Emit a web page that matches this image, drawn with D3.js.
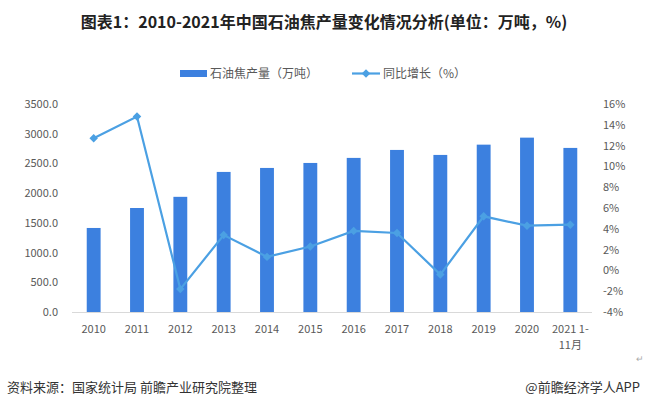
<!DOCTYPE html>
<html><head><meta charset="utf-8">
<script src="https://cdn.jsdelivr.net/npm/d3@7"></script>
<style>
html,body{margin:0;padding:0;background:#fff;}
svg{display:block;font-family:"Microsoft YaHei","Noto Sans CJK SC","Noto Sans",sans-serif;}
</style></head>
<body><svg id="c" width="646" height="407"></svg>
<script>
const categories = ["2010","2011","2012","2013","2014","2015","2016","2017","2018","2019","2020","2021 1-|11月"];
const production = [1414, 1750, 1938, 2357, 2424, 2508, 2593, 2727, 2643, 2816, 2934, 2761];
const growth = [12.7, 14.8, -1.8, 3.4, 1.3, 2.3, 3.8, 3.6, -0.4, 5.2, 4.3, 4.4];
const leftTicks = [0, 500, 1000, 1500, 2000, 2500, 3000, 3500];
const rightTicks = [-4, -2, 0, 2, 4, 6, 8, 10, 12, 14, 16];
const title = "图表1：2010-2021年中国石油焦产量变化情况分析(单位：万吨，%)";
const legendBar = "石油焦产量（万吨）";
const legendLine = "同比增长（%）";
const source = "资料来源：国家统计局 前瞻产业研究院整理";
const credit = "@前瞻经济学人APP";

(function() {
const svg = d3.select("#c");
const barColor = "#3c80df", lineColor = "#4ba0e3", txt = "#595959";
const pl = 72, pr = 592, pt = 104, pb = 312;

const x = d3.scaleBand().domain(categories).range([pl, pr]).paddingInner(0.68).paddingOuter(0.34);
const yL = d3.scaleLinear().domain([0, 3500]).range([pb, pt]);
const yR = d3.scaleLinear().domain([-4, 16]).range([pb, pt]);

svg.append("text").attr("x", 324).attr("y", 28).attr("text-anchor", "middle")
  .attr("font-size", 16).attr("font-weight", "bold").attr("fill", "#222").text(title);

svg.append("g").selectAll("rect").data(production).join("rect")
  .attr("x", (d, i) => x(categories[i])).attr("width", x.bandwidth())
  .attr("y", d => yL(d)).attr("height", d => yL(0) - yL(d)).attr("fill", barColor);

svg.append("line").attr("x1", pl).attr("x2", pr).attr("y1", pb + 0.5).attr("y2", pb + 0.5)
  .attr("stroke", "#d9d9d9").attr("stroke-width", 1);

const gl = svg.append("g").attr("transform", `translate(58,0)`)
  .call(d3.axisLeft(yL).tickValues(leftTicks).tickFormat(d3.format(".1f")).tickSize(0).tickPadding(0));
gl.select(".domain").remove();
gl.selectAll("text").attr("font-size", 11).attr("fill", txt);
gl.attr("font-family", null);

const gr = svg.append("g").attr("transform", `translate(603,0)`)
  .call(d3.axisRight(yR).tickValues(rightTicks).tickFormat(d => d + "%").tickSize(0).tickPadding(0));
gr.select(".domain").remove();
gr.selectAll("text").attr("font-size", 11).attr("fill", txt);
gr.attr("font-family", null);

const xl = svg.append("g").selectAll("text").data(categories).join("text")
  .attr("x", d => x(d) + x.bandwidth() / 2).attr("y", 333)
  .attr("text-anchor", "middle").attr("font-size", 11).attr("fill", txt);
xl.each(function(d) {
  const parts = d.split("|");
  const t = d3.select(this);
  parts.forEach((p, k) => t.append("tspan").attr("x", x(d) + x.bandwidth() / 2).attr("dy", k ? 16 : 0).text(p));
});

const line = d3.line().x((d, i) => x(categories[i]) + x.bandwidth() / 2).y(d => yR(d));
svg.append("path").datum(growth).attr("d", line).attr("fill", "none")
  .attr("stroke", lineColor).attr("stroke-width", 2.2);
svg.append("g").selectAll("path").data(growth).join("path")
  .attr("transform", (d, i) => `translate(${x(categories[i]) + x.bandwidth() / 2},${yR(d)}) rotate(45)`)
  .attr("d", "M-3,-3H3V3H-3Z").attr("fill", lineColor);

const lg = svg.append("g");
lg.append("rect").attr("x", 180).attr("y", 70).attr("width", 27).attr("height", 7).attr("fill", barColor);
lg.append("text").attr("x", 210).attr("y", 78).attr("font-size", 12).attr("fill", txt).text(legendBar);
lg.append("line").attr("x1", 352).attr("x2", 380).attr("y1", 73.5).attr("y2", 73.5).attr("stroke", lineColor).attr("stroke-width", 2.2);
lg.append("path").attr("transform", "translate(366,73.5) rotate(45)").attr("d", "M-3,-3H3V3H-3Z").attr("fill", lineColor);
lg.append("text").attr("x", 383).attr("y", 78).attr("font-size", 12).attr("fill", txt).text(legendLine);

svg.append("text").attr("x", 7).attr("y", 392).attr("font-size", 13).attr("fill", "#333").text(source);
svg.append("text").attr("x", 640).attr("y", 392).attr("text-anchor", "end").attr("font-size", 13).attr("fill", "#333").text(credit);
svg.append("text").attr("x", 636).attr("y", 362).attr("font-size", 9).attr("fill", "#aaa").text("↵");
})();
</script></body></html>
